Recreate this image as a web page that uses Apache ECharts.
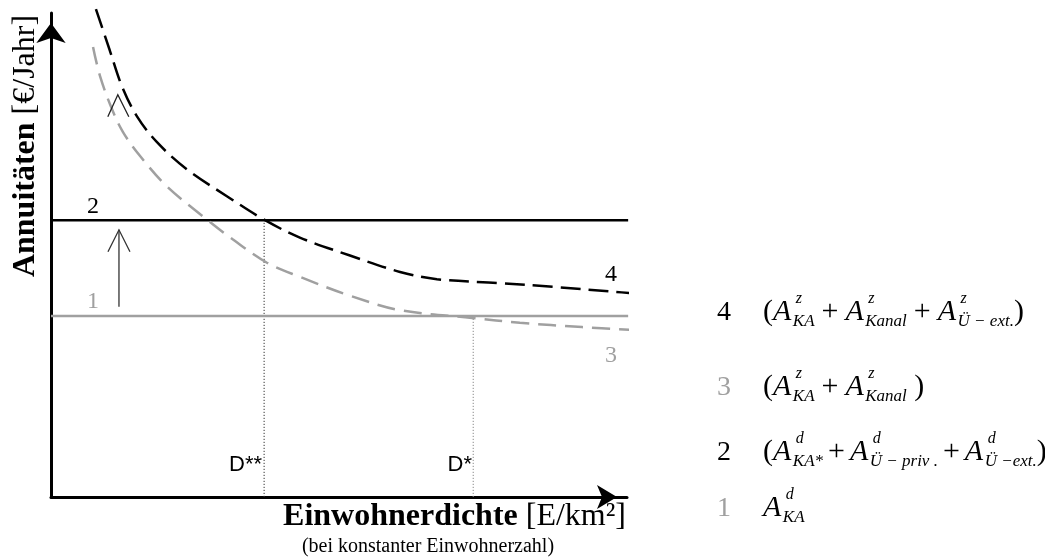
<!DOCTYPE html>
<html><head><meta charset="utf-8">
<script src="https://cdn.jsdelivr.net/npm/echarts@6/dist/echarts.min.js"></script>
<style>html,body{margin:0;padding:0;background:#fff}#c{width:1045px;height:559px}</style>
</head><body><div id="c"></div>
<script>
// ---- data (schematic values) ----
const curve4X = [7.8, 10.2, 12.3, 14.9, 18.4, 23.6, 30.6, 37.0, 43.2, 51.9, 60.6, 67.0, 77.9, 87.3, 97.7, 101.2];
const curve4Y = [100.8, 92.3, 84.9, 78.7, 73.3, 67.7, 62.1, 57.3, 53.6, 49.9, 46.5, 45.0, 44.2, 43.4, 42.4, 42.1];
const curve3X = [7.3, 8.5, 10.6, 12.5, 15.5, 20.1, 27.1, 31.6, 37.5, 43.2, 51.9, 60.6, 73.1, 81.4, 92.2, 100.9];
const curve3Y = [93.0, 87.0, 80.1, 75.4, 70.4, 64.2, 57.3, 53.2, 48.4, 45.5, 41.6, 38.6, 37.0, 36.0, 35.1, 34.5];
const level2 = 57.2;      // line 2
const level1 = 37.4;      // line 1
const levelEnd = 100.2;
const dStarStar = 37.0;   // D**
const dStar = 73.3;       // D*
const shiftArrow = { x: 11.8, from: 39.3, to: 55.2 };
const topArrowTip = { x: 11.6, y: 83.1 };

const SERIF = '"Liberation Serif", "Times New Roman", serif';
const SANS = '"Liberation Sans", Arial, sans-serif';
const GRAY = '#a0a0a0';

const chart = echarts.init(document.getElementById('c'), null, { renderer: 'canvas' });

const zip = (xs, ys) => xs.map((x, i) => [x, ys[i]]);

const axisCommon = {
  type: 'value', min: 0, max: 100,
  axisTick: { show: false }, axisLabel: { show: false }, splitLine: { show: false }
};

chart.setOption({
  animation: false,
  backgroundColor: '#fff',
  grid: { left: 51, top: 13, right: 418, bottom: 62 },
  xAxis: Object.assign({}, axisCommon, {
    axisLine: { show: true, lineStyle: { color: '#000', width: 3 },
      symbol: ['none', 'arrow'], symbolSize: [18, 20], symbolOffset: [0, -10] }
  }),
  yAxis: Object.assign({}, axisCommon, {
    axisLine: { show: true, lineStyle: { color: '#000', width: 3 },
      symbol: ['none', 'arrow'], symbolSize: [22, 20], symbolOffset: [0, -10] }
  }),
  series: [
    { type: 'line', name: '1', data: [[0, level1], [levelEnd, level1]], showSymbol: false, clip: false,
      lineStyle: { color: GRAY, width: 2.5 }, z: 2 },
    { type: 'line', name: '2', data: [[0, level2], [levelEnd, level2]], showSymbol: false, clip: false,
      lineStyle: { color: '#000', width: 2.5 }, z: 2 },
    { type: 'line', name: 'D**', data: [[dStarStar, 0], [dStarStar, level2]], showSymbol: false,
      lineStyle: { color: '#333', width: 1, type: [1.2, 1.8] }, z: 1 },
    { type: 'line', name: 'D*', data: [[dStar, 0], [dStar, level1]], showSymbol: false,
      lineStyle: { color: '#888', width: 1, type: [1.2, 1.8] }, z: 1 },
    { type: 'line', name: '3', data: zip(curve3X, curve3Y), smooth: 0.35, showSymbol: false, clip: false,
      lineStyle: { color: GRAY, width: 2.5, type: [18, 9] }, z: 3 },
    { type: 'line', name: '4', data: zip(curve4X, curve4Y), smooth: 0.35, showSymbol: false, clip: false,
      lineStyle: { color: '#000', width: 2.5, type: [20, 8] }, z: 3 }
  ]
});

// ---- annotations ----
const mctx = document.createElement('canvas').getContext('2d');
function measure(t, font) { mctx.font = font; return mctx.measureText(t).width; }
function fontStr(style, weight, size, fam) { return style + ' ' + weight + ' ' + size + 'px ' + fam; }

function txt(x, baseline, text, size, opts) {
  opts = opts || {};
  return {
    type: 'text', x: x, y: baseline - 0.33 * size, z: 100,
    style: {
      text: text, fill: opts.fill || '#000',
      fontFamily: opts.family || SERIF, fontSize: size,
      fontStyle: opts.italic ? 'italic' : 'normal', fontWeight: opts.bold ? 'bold' : 'normal',
      align: opts.align || 'left', verticalAlign: 'middle'
    }
  };
}

const MAIN = 30, SUB = 17, SUP = 16;
function formula(x0, base, tokens, gap, els) {
  let x = x0;
  tokens.forEach(t => {
    if (typeof t === 'string') {
      els.push(txt(x, base, t, MAIN));
      x += measure(t, fontStr('normal', 'normal', MAIN, SERIF));
    } else if (t.op) {
      x += gap;
      els.push(txt(x, base, t.op, MAIN));
      x += measure(t.op, fontStr('normal', 'normal', MAIN, SERIF)) + gap;
    } else {
      els.push(txt(x, base, 'A', MAIN, { italic: true }));
      const aw = measure('A', fontStr('italic', 'normal', MAIN, SERIF));
      const sx = x + aw + 1.5;
      els.push(txt(sx + 3, base - 18, t.s, SUP, { italic: true }));
      els.push(txt(sx, base + 5, t.b, SUB, { italic: true }));
      x = sx + Math.max(measure(t.s, fontStr('italic', 'normal', SUP, SERIF)) + 3,
                        measure(t.b, fontStr('italic', 'normal', SUB, SERIF)));
    }
  });
}

const PLUS = { op: '+' };
const legendRows = [
  { n: '4', color: '#000', base: 322, gap: 7, tokens: ['(', { s: 'z', b: 'KA' }, PLUS, { s: 'z', b: 'Kanal' }, PLUS, { s: 'z', b: 'Ü − ext.' }, ')'] },
  { n: '3', color: GRAY, base: 397, gap: 7, tokens: ['(', { s: 'z', b: 'KA' }, PLUS, { s: 'z', b: 'Kanal' }, ' )'] },
  { n: '2', color: '#000', base: 462, gap: 5, tokens: ['(', { s: 'd', b: 'KA*' }, PLUS, { s: 'd', b: 'Ü − priv .' }, PLUS, { s: 'd', b: 'Ü −ext.' }, ')'] },
  { n: '1', color: GRAY, base: 518, gap: 7, tokens: [{ s: 'd', b: 'KA' }] }
];

function buildGraphic() {
  const els = [];
  // axis titles
  els.push({
    type: 'text', x: 26, y: 146, rotation: Math.PI / 2, z: 100,
    style: { text: '{b|Annuitäten} [€/Jahr]', fill: '#000', fontFamily: SERIF, fontSize: 32,
      align: 'center', verticalAlign: 'middle',
      rich: { b: { fontWeight: 'bold', fontFamily: SERIF, fontSize: 32 } } }
  });
  els.push({
    type: 'text', x: 626, y: 517, z: 100,
    style: { text: '{b|Einwohnerdichte} [E/km²]', fill: '#000', fontFamily: SERIF, fontSize: 32,
      align: 'right', verticalAlign: 'middle',
      rich: { b: { fontWeight: 'bold', fontFamily: SERIF, fontSize: 32 } } }
  });
  els.push(txt(428, 553, '(bei konstanter Einwohnerzahl)', 20, { align: 'center' }));

  // curve labels
  els.push(txt(93, 215, '2', 24, { align: 'center' }));
  els.push(txt(93, 310, '1', 24, { align: 'center', fill: GRAY }));
  els.push(txt(611, 283, '4', 24, { align: 'center' }));
  els.push(txt(611, 364, '3', 24, { align: 'center', fill: GRAY }));

  // D labels
  els.push(txt(262, 472, 'D**', 22, { align: 'right', family: SANS }));
  els.push(txt(472, 472, 'D*', 22, { align: 'right', family: SANS }));

  // arrows
  const p0 = chart.convertToPixel({ gridIndex: 0 }, [shiftArrow.x, shiftArrow.from]);
  const p1 = chart.convertToPixel({ gridIndex: 0 }, [shiftArrow.x, shiftArrow.to]);
  const arrowStyle = { stroke: '#333', lineWidth: 1.3, fill: null };
  els.push({ type: 'line', z: 90, shape: { x1: p0[0], y1: p0[1], x2: p1[0], y2: p1[1] }, style: arrowStyle });
  els.push({ type: 'polyline', z: 90, shape: { points: [[p1[0] - 11, p1[1] + 22], [p1[0], p1[1]], [p1[0] + 11, p1[1] + 22]] }, style: arrowStyle });
  const t = chart.convertToPixel({ gridIndex: 0 }, [topArrowTip.x, topArrowTip.y]);
  els.push({ type: 'polyline', z: 90, shape: { points: [[t[0] - 10, t[1] + 22], [t[0], t[1]], [t[0] + 11, t[1] + 22]] }, style: { stroke: '#222', lineWidth: 1.3, fill: null } });

  // legend
  legendRows.forEach(r => {
    els.push(txt(717, r.base, r.n, 28, { fill: r.color }));
    formula(763, r.base, r.tokens, r.gap, els);
  });
  return els;
}

chart.setOption({ graphic: buildGraphic() });
</script>
</body></html>
